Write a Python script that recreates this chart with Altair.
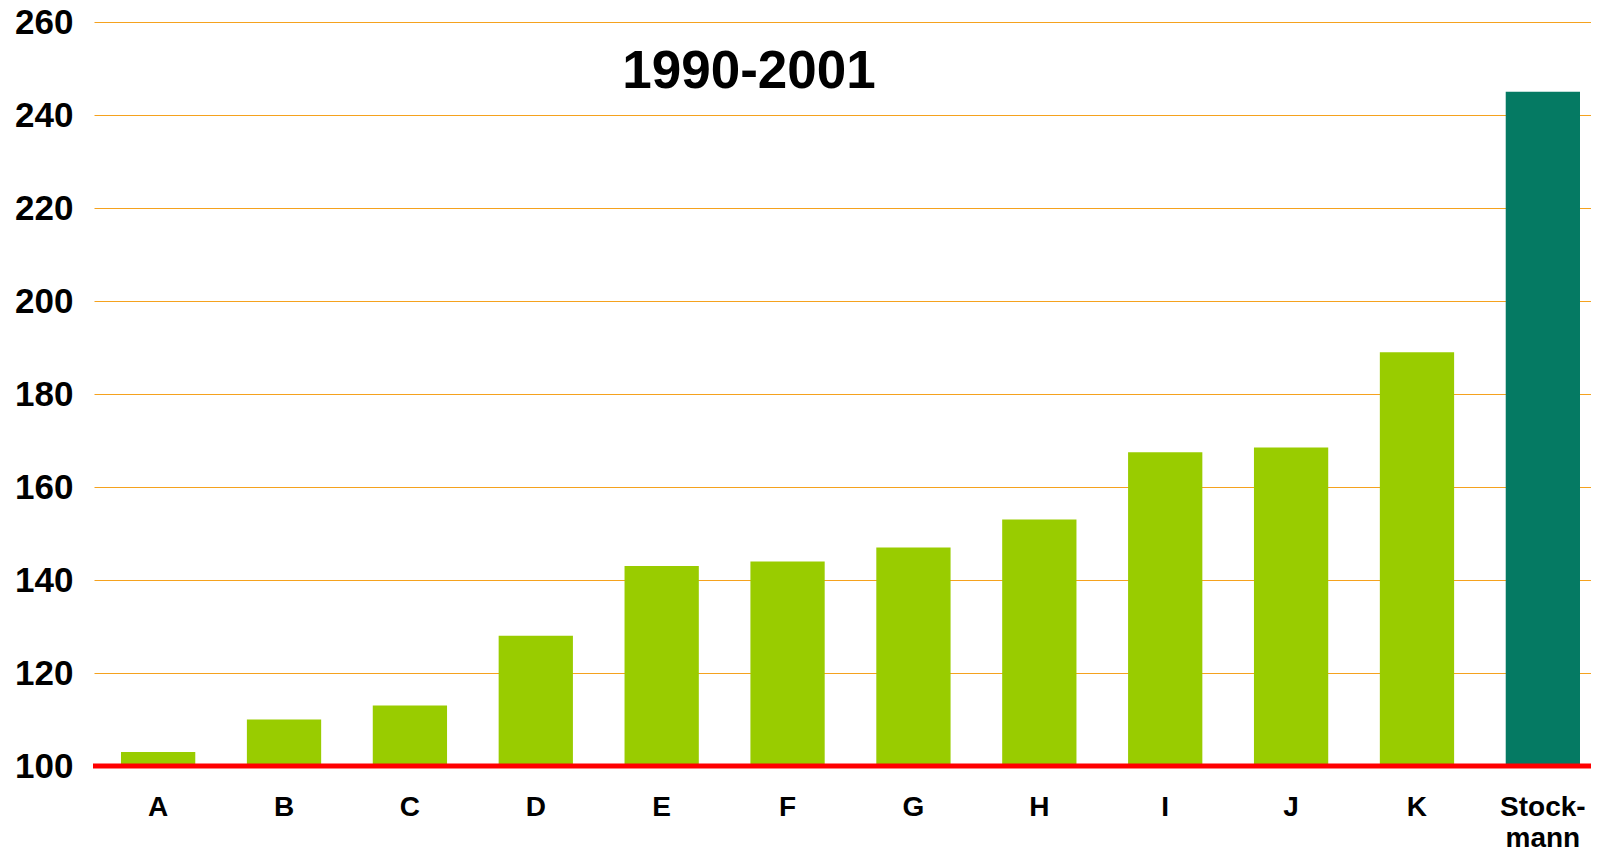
import altair as alt
import pandas as pd

categories = ["A", "B", "C", "D", "E", "F", "G", "H", "I", "J", "K", "Stock-\nmann"]
values = [103, 110, 113, 128, 143, 144, 147, 153, 167.5, 168.5, 189, 245]
y_ticks = [100, 120, 140, 160, 180, 200, 220, 240, 260]
title_text = "1990-2001"
highlight = "Stock-\nmann"

df = pd.DataFrame({"cat": categories, "val": values})

FONT = "Liberation Sans"
GREEN = "#99CC00"
DARK = "#057A63"
GRID = "#F5A21E"

PLOT_W = 1497
PLOT_H = 744

base = alt.Chart(df)

bars = base.mark_bar().encode(
    x=alt.X(
        "cat:N",
        sort=categories,
        scale=alt.Scale(range=[0, 1513], paddingInner=0.41, paddingOuter=0.2145),
        axis=alt.Axis(
            title=None,
            labelAngle=0,
            labelFont=FONT,
            labelFontSize=28,
            labelFontWeight="bold",
            labelColor="black",
            ticks=False,
            tickSize=0,
            domain=False,
            labelPadding=49,
            labelBaseline="alphabetic",
            labelLineHeight=31,
            labelExpr="split(datum.label, '\\n')",
        ),
    ),
    y=alt.Y(
        "val:Q",
        scale=alt.Scale(domain=[100, 260], zero=False, nice=False),
        axis=alt.Axis(
            title=None,
            values=y_ticks,
            grid=True,
            gridColor=GRID,
            gridWidth=1,
            gridOpacity=1,
            domain=False,
            ticks=False,
            tickSize=0,
            labelPadding=21,
            labelFont=FONT,
            labelFontSize=35,
            labelFontWeight="bold",
            labelColor="black",
            labelBaseline="middle",
        ),
    ),
    y2=alt.datum(100),
    color=alt.condition(
        alt.datum.cat == highlight, alt.value(DARK), alt.value(GREEN)
    ),
)

baseline = alt.Chart(pd.DataFrame({"y": [100]})).mark_rule(
    color="#FF0000", strokeWidth=5
).encode(y=alt.Y("y:Q"), x=alt.value(-1), x2=alt.value(PLOT_W))

title = alt.Chart(pd.DataFrame({"t": [title_text]})).mark_text(
    font=FONT, fontSize=53, fontWeight="bold", color="black",
    align="center", baseline="alphabetic"
).encode(text="t:N", x=alt.value(655), y=alt.value(66))

chart = alt.layer(bars, baseline, title).properties(
    width=PLOT_W,
    height=PLOT_H,
    padding={"left": 86, "top": 14, "right": 0, "bottom": 82},
    autosize=alt.AutoSizeParams(type="none"),
).configure_view(stroke=None)

chart.save("out.html", embed_options={"renderer": "svg", "actions": False})
